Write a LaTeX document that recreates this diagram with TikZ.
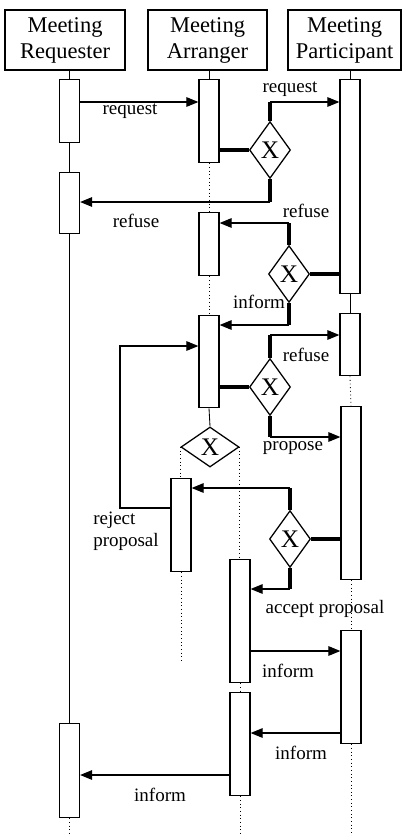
\documentclass[tikz,border=0pt]{standalone}
\usepackage{fontspec}
\setmainfont{Liberation Serif}
\usetikzlibrary{shapes.geometric, arrows.meta, positioning}
\tikzset{
  agent/.style={rectangle, draw=black, line width=1pt, minimum height=1.5cm, align=center, inner sep=0pt, font=\fontsize{16}{18.5}\selectfont},
  activation/.style={rectangle, draw=black, fill=white, line width=0.9pt, minimum width=0.5cm, inner sep=0pt, anchor=north},
  gate/.style={diamond, draw=black, fill=white, line width=0.9pt, inner sep=0pt, minimum width=1.025cm, minimum height=1.42cm, font=\fontsize{18}{18}\selectfont},
  lifeline/.style={line width=0.6pt},
  dotline/.style={line width=0.6pt, dotted},
  branch/.style={line width=2.2pt},
  msg/.style={line width=0.8pt, -{Triangle[length=0.3cm, width=0.24cm]}},
  lbl/.style={font=\fontsize{13.5}{15.5}\selectfont, inner sep=0pt}
}
\begin{document}
\begin{tikzpicture}[x=0.025cm, y=-0.025cm]
  \useasboundingbox (0,0) rectangle (404,836);

  % Agentes
  \node (req) [agent, minimum width=3cm] at (65,40) {Meeting\\Requester};
  \node (arr) [agent, minimum width=2.975cm] at (207.5,40) {Meeting\\Arranger};
  \node (par) [agent, minimum width=2.825cm] at (344.5,40) {Meeting\\Participant};

  % Alturas de los mensajes
  \coordinate (m1) at (0,102);
  \coordinate (m2) at (0,202);
  \coordinate (m3) at (0,223);
  \coordinate (m4) at (0,325);
  \coordinate (m5) at (0,335);
  \coordinate (m6) at (0,346);
  \coordinate (m7) at (0,437);
  \coordinate (m8) at (0,488);
  \coordinate (m9) at (0,508);
  \coordinate (m10) at (0,589);
  \coordinate (m11) at (0,651);
  \coordinate (m12) at (0,733);
  \coordinate (m13) at (0,775);
  \coordinate (kx) at (120,0);
  \coordinate (end4) at (0,662);
  \coordinate (bot) at (0,836);

  % Barras de activacion
  \node (r1) [activation, minimum height=1.575cm] at (69.5,79) {};
  \node (r2) [activation, minimum height=1.525cm] at (69.5,172) {};
  \node (r3) [activation, minimum height=2.35cm] at (69.5,723) {};
  \node (a1) [activation, minimum height=2.075cm] at (209,79) {};
  \node (a2) [activation, minimum height=1.575cm] at (209,212) {};
  \node (a3) [activation, minimum height=2.3cm] at (209,315) {};
  \node (a4) [activation, minimum height=2.325cm] at (181,478) {};
  \node (a5) [activation, minimum height=3.075cm] at (240,559) {};
  \node (a6) [activation, minimum height=2.575cm] at (240,692) {};
  \node (p1) [activation, minimum height=5.35cm] at (350,79) {};
  \node (p2) [activation, minimum height=1.55cm] at (350,313) {};
  \node (p3) [activation, minimum height=4.325cm] at (351,406) {};
  \node (p4) [activation, minimum height=2.825cm] at (351,630) {};

  % Compuertas X
  \node (d1) [gate] at (270,150) {X};
  \node (d2) [gate] at (289,274) {X};
  \node (d3) [gate] at (270,387) {X};
  \node (d4) [gate] at (290,539) {X};
  \node (dx) [gate, minimum width=1.45cm, minimum height=1cm] at (210,447) {X};

  % Lineas de vida
  \draw[lifeline] (req.south -| r1.north) -- (r1.north);
  \draw[lifeline] (r1.south) -- (r2.north);
  \draw[lifeline] (r2.south) -- (r3.north);
  \draw[dotline] (r3.south) -- (r3.south |- bot);
  \draw[lifeline] (arr.south -| a1.north) -- (a1.north);
  \draw[dotline] (a1.south) -- (a2.north);
  \draw[dotline] (a2.south) -- (a3.north);
  \draw[lifeline] (a3.south) -- (dx.north);
  \draw[dotline] (dx.west) -- (dx.west |- a4.north);
  \draw[dotline] (dx.east) -- (dx.east |- a5.north);
  \draw[dotline] (a4.south) -- (a4.south |- end4);
  \draw[dotline] (a5.south) -- (a6.north);
  \draw[dotline] (a6.south) -- (a6.south |- bot);
  \draw[lifeline] (par.south -| p1.north) -- (p1.north);
  \draw[lifeline] (p1.south) -- (p2.north);
  \draw[dotline] (p2.south) -- (p3.north);
  \draw[dotline] (p3.south) -- (p4.north);
  \draw[dotline] (p4.south) -- (p4.south |- bot);

  % Mensajes
  \draw[msg] (r1.east |- m1) -- (a1.west |- m1);
  \node (l1) [lbl] at (130,111) {request};

  \draw[branch] (a1.east |- d1.west) -- (d1.west);
  \draw[branch] (d1.north) -- (d1.north |- m1);
  \draw[msg] (d1.north |- m1) -- (p1.west |- m1);
  \node (l2) [lbl] at (290,89) {request};
  \draw[branch] (d1.south) -- (d1.south |- m2);
  \draw[msg] (d1.south |- m2) -- (r2.east |- m2);
  \node (l3) [lbl] at (136,221) {refuse};

  \draw[branch] (p1.west |- d2.east) -- (d2.east);
  \draw[branch] (d2.north) -- (d2.north |- m3);
  \draw[msg] (d2.north |- m3) -- (a2.east |- m3);
  \node (l4) [lbl] at (306,211) {refuse};
  \draw[branch] (d2.south) -- (d2.south |- m4);
  \draw[msg] (d2.south |- m4) -- (a3.east |- m4);
  \node (l5) [lbl] at (259,302) {inform};

  \draw[branch] (a3.east |- d3.west) -- (d3.west);
  \draw[branch] (d3.north) -- (d3.north |- m5);
  \draw[msg] (d3.north |- m5) -- (p2.west |- m5);
  \node (l6) [lbl] at (306,355) {refuse};
  \draw[branch] (d3.south) -- (d3.south |- m7);
  \draw[msg] (d3.south |- m7) -- (p3.west |- m7);
  \node (l7) [lbl] at (293,448) {propose};

  \draw[msg] (a4.west |- m9) -| (kx |- m6) -- (a3.west |- m6);
  \node (l8) [lbl, align=left, anchor=north west] at (93,512) {reject\\proposal};

  \draw[branch] (p3.west |- d4.east) -- (d4.east);
  \draw[branch] (d4.north) -- (d4.north |- m8);
  \draw[msg] (d4.north |- m8) -- (a4.east |- m8);
  \draw[branch] (d4.south) -- (d4.south |- m10);
  \draw[msg] (d4.south |- m10) -- (a5.east |- m10);
  \node (l9) [lbl] at (325,609) {accept proposal};

  \draw[msg] (a5.east |- m11) -- (p4.west |- m11);
  \node (l10) [lbl] at (288,671) {inform};
  \draw[msg] (p4.west |- m12) -- (a6.east |- m12);
  \node (l11) [lbl] at (301,753) {inform};
  \draw[msg] (a6.west |- m13) -- (r3.east |- m13);
  \node (l12) [lbl] at (160,795) {inform};

\end{tikzpicture}
\end{document}
